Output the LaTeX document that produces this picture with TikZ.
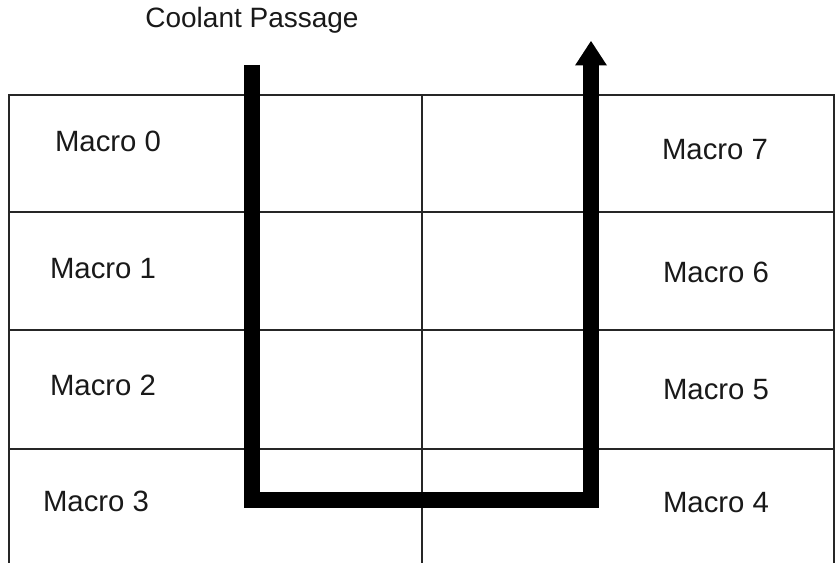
\documentclass[tikz,border=0pt]{standalone}
\usepackage{fontspec}
\setmainfont{Liberation Sans}
\begin{document}
\begin{tikzpicture}[x=0.75pt,y=-0.75pt,
  gridline/.style={draw=black!85,line width=0.9pt},
  passage/.style={line width=12pt,line join=miter,line cap=butt},
  lbl/.style={anchor=base,inner sep=0pt,font=\fontsize{21}{25}\selectfont,text=black!90},
  cell/.style={lbl,font=\fontsize{22}{26}\selectfont}]
  \useasboundingbox (0,0) rectangle (836,563);

  % module grid (open at the bottom)
  \draw[gridline] (9,563) -- (9,95) -- (834,95) -- (834,563);
  \draw[gridline] (422,95) -- (422,563);
  \foreach \yy in {212,330,449}
    \draw[gridline] (9,\yy) -- (834,\yy);

  % labels
  \node[lbl] (title) at (252,28) {Coolant Passage};
  \node[cell] (m0) at (108,152) {Macro 0};
  \node[cell] (m1) at (103,278) {Macro 1};
  \node[cell] (m2) at (103,395) {Macro 2};
  \node[cell] (m3) at (96,511) {Macro 3};
  \node[cell] (m7) at (715,160) {Macro 7};
  \node[cell] (m6) at (716,282) {Macro 6};
  \node[cell] (m5) at (716,399) {Macro 5};
  \node[cell] (m4) at (716,512) {Macro 4};

  % coolant channel: down the left, across the bottom, up the right
  \coordinate (inlet) at (252,65);
  \coordinate (bl) at (252,500);
  \coordinate (br) at (591,500);
  \coordinate (outlet) at (591,65);
  \coordinate (tip) at (591,41);
  \draw[passage] (inlet) -- (bl) -- (br) -- (outlet);
  \fill (575,65.5) -- (tip) -- (607,65.5) -- cycle;
\end{tikzpicture}
\end{document}
